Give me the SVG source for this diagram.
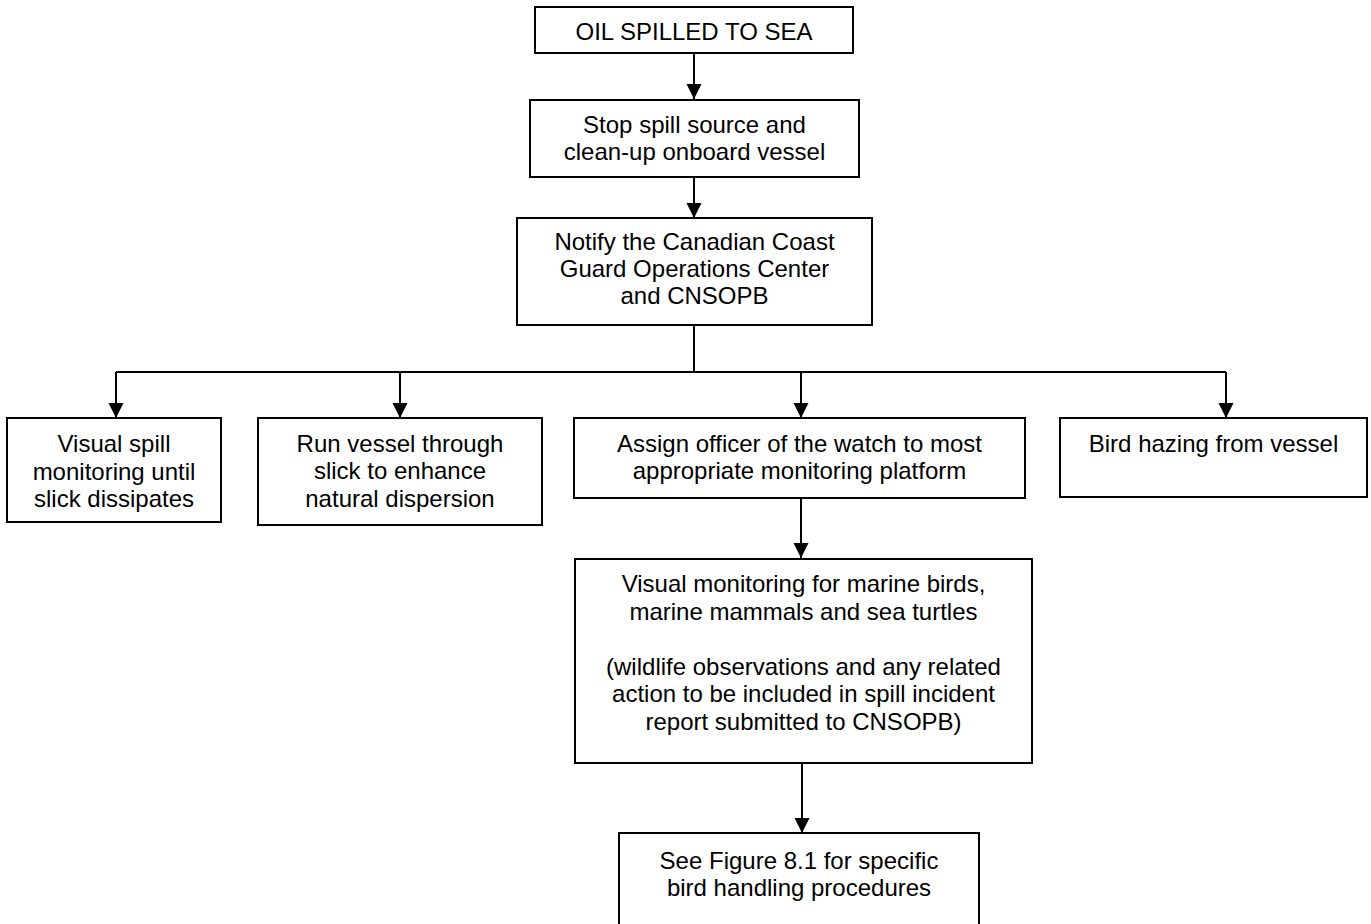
<svg xmlns="http://www.w3.org/2000/svg" width="1371" height="924" viewBox="0 0 1371 924">
<style>
.box{fill:#fff;stroke:#000;stroke-width:2}
.t{font-family:"Liberation Sans",Arial,sans-serif;font-size:24px;fill:#000;text-anchor:middle}
.c{fill:none;stroke:#000;stroke-width:2}
</style>
<defs>
<marker id="ah" markerUnits="userSpaceOnUse" markerWidth="16" markerHeight="16" viewBox="0 0 16 16" refX="15" refY="7.5" orient="auto">
<path d="M0,0 L15,7.5 L0,15 z" fill="#000"/>
</marker>
</defs>
<rect width="1371" height="924" fill="#fff"/>
<g id="connectors">
<line class="c" x1="694" y1="53" x2="694" y2="99" marker-end="url(#ah)"/>
<line class="c" x1="694" y1="177" x2="694" y2="218" marker-end="url(#ah)"/>
<polyline class="c" points="694,325 694,372"/>
<polyline class="c" points="116,372 1226,372"/>
<line class="c" x1="116" y1="372" x2="116" y2="418" marker-end="url(#ah)"/>
<line class="c" x1="400" y1="372" x2="400" y2="418" marker-end="url(#ah)"/>
<line class="c" x1="801" y1="372" x2="801" y2="418" marker-end="url(#ah)"/>
<line class="c" x1="1226" y1="372" x2="1226" y2="418" marker-end="url(#ah)"/>
<line class="c" x1="801" y1="498" x2="801" y2="558" marker-end="url(#ah)"/>
<line class="c" x1="802" y1="763" x2="802" y2="833" marker-end="url(#ah)"/>
</g>
<g id="n1">
<rect class="box" x="535" y="7" width="318" height="46"/>
<text class="t" x="694" y="40">OIL SPILLED TO SEA</text>
</g>
<g id="n2">
<rect class="box" x="530" y="100" width="329" height="77"/>
<text class="t" x="694.5" y="133">Stop spill source and</text>
<text class="t" x="694.5" y="160">clean-up onboard vessel</text>
</g>
<g id="n3">
<rect class="box" x="517" y="218" width="355" height="107"/>
<text class="t" x="694.5" y="250">Notify the Canadian Coast</text>
<text class="t" x="694.5" y="277">Guard Operations Center</text>
<text class="t" x="694.5" y="304">and CNSOPB</text>
</g>
<g id="nA">
<rect class="box" x="7" y="418" width="214" height="104"/>
<text class="t" x="114" y="452">Visual spill</text>
<text class="t" x="114" y="480">monitoring until</text>
<text class="t" x="114" y="507">slick dissipates</text>
</g>
<g id="nB">
<rect class="box" x="258" y="418" width="284" height="107"/>
<text class="t" x="400" y="452">Run vessel through</text>
<text class="t" x="400" y="479">slick to enhance</text>
<text class="t" x="400" y="507">natural dispersion</text>
</g>
<g id="nC">
<rect class="box" x="574" y="418" width="451" height="80"/>
<text class="t" x="799.5" y="452">Assign officer of the watch to most</text>
<text class="t" x="799.5" y="479">appropriate monitoring platform</text>
</g>
<g id="nD">
<rect class="box" x="1060" y="418" width="307" height="79"/>
<text class="t" x="1213.5" y="452">Bird hazing from vessel</text>
</g>
<g id="nE">
<rect class="box" x="575" y="559" width="457" height="204"/>
<text class="t" x="803.5" y="592">Visual monitoring for marine birds,</text>
<text class="t" x="803.5" y="619.5">marine mammals and sea turtles</text>
<text class="t" x="803.5" y="674.5">(wildlife observations and any related</text>
<text class="t" x="803.5" y="702">action to be included in spill incident</text>
<text class="t" x="803.5" y="729.5">report submitted to CNSOPB)</text>
</g>
<g id="nF">
<rect class="box" x="619" y="833" width="360" height="100"/>
<text class="t" x="799" y="869">See Figure 8.1 for specific</text>
<text class="t" x="799" y="896">bird handling procedures</text>
</g>
</svg>
